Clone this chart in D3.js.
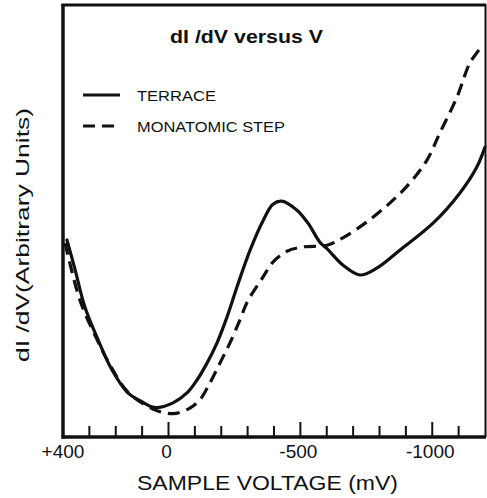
<!DOCTYPE html>
<html>
<head>
<meta charset="utf-8">
<script src="https://cdn.jsdelivr.net/npm/d3@7"></script>
<style>
  body { margin: 0; background: #fff; }
  text { font-family: "Liberation Sans", Arial, sans-serif; fill: #111; }
</style>
</head>
<body>
<div id="chart"></div>
<script>
// sample voltage (mV) and dI/dV (arbitrary units)
const terraceV = [385, 354, 317, 267, 214, 154, 108, 51, -17, -70, -108, -146, -184, -222, -260, -309, -358,
  -396, -430, -487, -529, -574, -601, -661, -726, -790, -878, -1003, -1105, -1169, -1200];
const terraceY = [45.6, 38.7, 30.1, 22.5, 15.5, 10.2, 8.4, 6.8, 7.9, 10.2, 13.2, 17.1, 21.8, 27.8, 34.8, 43.2, 50.0,
  53.9, 54.6, 52.5, 49.5, 45.1, 43.6, 39.8, 37.5, 39.1, 43.3, 49.5, 56.5, 62.5, 67.1];

const stepV = [392, 336, 279, 222, 154, 59, -17, -81, -119, -157, -195, -233, -271, -298, -358, -396, -449,
  -510, -601, -661, -752, -840, -915, -980, -1029, -1094, -1143, -1192];
const stepY = [44.9, 31.7, 23.6, 16.7, 10.4, 6.5, 5.4, 6.7, 8.6, 12.5, 17.1, 21.8, 27.1, 31.2, 37.0, 40.5, 43.0,
  44.0, 44.4, 46.1, 49.8, 54.2, 58.8, 64.1, 70.4, 78.7, 86.6, 90.7];

const tickValues = [300, 200, 100, 0, -100, -200, -300, -400, -500, -600, -700, -800, -900, -1000, -1100];
const labelValues = [400, 0, -500, -1000];
const labelText = ["+400", "0", "-500", "-1000"];
const seriesNames = ["TERRACE", "MONATOMIC STEP"];

const W = 487, H = 498;
const svg = d3.select("#chart").append("svg")
  .attr("width", W).attr("height", H);

const x = d3.scaleLinear().domain([400, -1200]).range([63, 485]);
const y = d3.scaleLinear().domain([0, 100]).range([437, 5]);

// frame
svg.append("line").attr("x1", 63).attr("x2", 63).attr("y1", 4).attr("y2", 438.5)
  .attr("stroke", "#111").attr("stroke-width", 3.5);
svg.append("line").attr("x1", 61.5).attr("x2", 486).attr("y1", 437).attr("y2", 437)
  .attr("stroke", "#111").attr("stroke-width", 3.5);
svg.append("line").attr("x1", 61.5).attr("x2", 486).attr("y1", 5).attr("y2", 5)
  .attr("stroke", "#111").attr("stroke-width", 3);
svg.append("line").attr("x1", 485.5).attr("x2", 485.5).attr("y1", 4).attr("y2", 437)
  .attr("stroke", "#111").attr("stroke-width", 2);

// ticks pointing up into the plot
svg.selectAll(".tick").data(tickValues).join("line")
  .attr("x1", d => x(d)).attr("x2", d => x(d))
  .attr("y1", 437)
  .attr("y2", d => labelValues.includes(d) ? 422 : 426)
  .attr("stroke", "#111").attr("stroke-width", 2);

svg.selectAll(".tl").data(labelValues).join("text")
  .attr("x", (d, i) => x(d) + (i === 0 ? 0 : -2))
  .attr("y", 458)
  .attr("text-anchor", "middle")
  .style("font-size", "19px")
  .text((d, i) => labelText[i]);

svg.append("text").attr("x", 137).attr("y", 490)
  .attr("textLength", 261).attr("lengthAdjust", "spacingAndGlyphs")
  .style("font-size", "21px")
  .text("SAMPLE VOLTAGE (mV)");

svg.append("text")
  .attr("transform", "translate(29,362) rotate(-90)")
  .attr("textLength", 254).attr("lengthAdjust", "spacingAndGlyphs")
  .style("font-size", "19px")
  .text("dI /dV(Arbitrary Units)");

svg.append("text").attr("x", 170).attr("y", 43)
  .attr("textLength", 153).attr("lengthAdjust", "spacingAndGlyphs")
  .style("font-size", "18px").style("font-weight", "bold")
  .text("dI /dV versus V");

// legend
const dashes = [null, "12,7"];
seriesNames.forEach((name, i) => {
  const ly = 95 + i * 31;
  svg.append("line").attr("x1", 83).attr("x2", 120).attr("y1", ly).attr("y2", ly)
    .attr("stroke", "#111").attr("stroke-width", 3)
    .attr("stroke-dasharray", dashes[i]);
  svg.append("text").attr("x", 137).attr("y", ly + 6)
    .attr("textLength", i === 0 ? 79 : 148).attr("lengthAdjust", "spacingAndGlyphs")
    .style("font-size", "15px")
    .text(name);
});

const line = d3.line()
  .x(d => x(d[0])).y(d => y(d[1]))
  .curve(d3.curveCatmullRom.alpha(0.5));

svg.append("path")
  .datum(terraceV.map((v, i) => [v, terraceY[i]]))
  .attr("d", line)
  .attr("fill", "none").attr("stroke", "#111").attr("stroke-width", 3.2)
  .attr("stroke-linejoin", "round").attr("stroke-linecap", "round");

svg.append("path")
  .datum(stepV.map((v, i) => [v, stepY[i]]))
  .attr("d", line)
  .attr("fill", "none").attr("stroke", "#111").attr("stroke-width", 3.2)
  .attr("stroke-dasharray", "12,7");
</script>
</body>
</html>
